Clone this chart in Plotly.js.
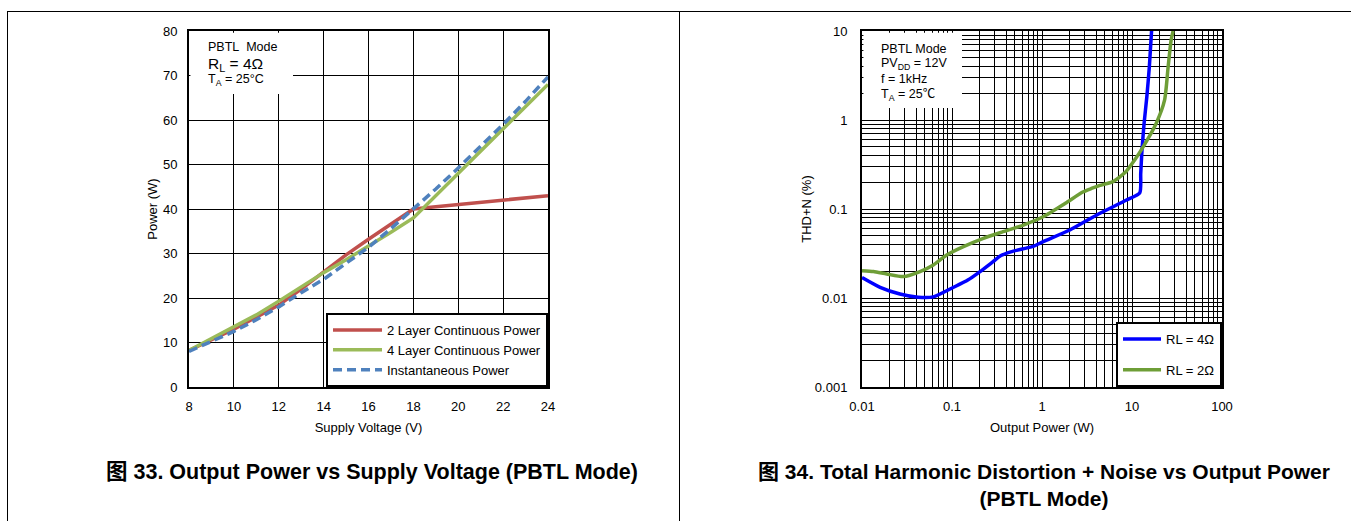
<!DOCTYPE html>
<html>
<head>
<meta charset="utf-8">
<script src="https://cdn.plot.ly/plotly-3.0.1.min.js"></script>
<style>
  html, body { margin:0; padding:0; background:#fff; width:1351px; height:521px; overflow:hidden; }
  #left { position:absolute; left:0; top:0; width:680px; height:521px; }
  #right { position:absolute; left:680px; top:0; width:671px; height:521px; }
  .ln { position:absolute; background:#000; z-index:10; }
</style>
</head>
<body>
<div id="left"></div>
<div id="right"></div>
<div class="ln" style="left:7px; top:11px; width:1344px; height:1px;"></div>
<div class="ln" style="left:7px; top:11px; width:1px; height:510px;"></div>
<div class="ln" style="left:679px; top:11px; width:1px; height:510px;"></div>
<script>
// ---------- Figure 33 data ----------
const supplyVoltage = [8, 9, 10, 11, 12, 13, 14, 15, 16, 17, 18, 19, 20, 21, 22, 23, 24];
const power2Layer   = [8.2, 10.5, 13.0, 15.7, 18.4, 22.0, 25.8, 29.7, 33.2, 36.6, 40.0, 40.5, 41.0, 41.5, 42.0, 42.5, 43.0];
const power4Layer   = [8.2, 10.8, 13.4, 16.2, 19.3, 22.6, 25.7, 28.6, 31.6, 34.8, 38.0, 43.0, 48.0, 53.0, 58.0, 63.0, 68.0];
const powerInstant  = [8.0, 10.2, 12.5, 15.1, 18.0, 21.2, 24.2, 27.8, 31.4, 35.6, 40.0, 44.5, 49.2, 54.0, 59.0, 64.2, 69.7];
const seriesNames33 = ['2 Layer Continuous Power', '4 Layer Continuous Power', 'Instantaneous Power'];

// ---------- Figure 34 data ----------
const outPower4 = [0.01, 0.0159, 0.0264, 0.042, 0.062, 0.104, 0.15, 0.205, 0.286, 0.35, 0.45, 0.6, 0.8, 1.03, 2.04, 4.06, 8.7, 12.2, 12.5, 12.9, 13.6, 14.6, 15.6, 16.5];
const thd4      = [0.017, 0.0132, 0.0111, 0.0102, 0.0103, 0.0132, 0.0159, 0.0198, 0.0256, 0.030, 0.033, 0.0355, 0.038, 0.043, 0.058, 0.0857, 0.126, 0.152, 0.25, 0.45, 0.9, 1.8, 4.0, 10];
const outPower2 = [0.01, 0.0134, 0.0188, 0.0288, 0.0441, 0.062, 0.0873, 0.134, 0.223, 0.37, 0.62, 1.03, 1.82, 2.84, 3.54, 4.4, 6.14, 8.55, 10.7, 13.3, 18.5, 23, 25.2, 27.2, 28.6];
const thd2      = [0.0203, 0.0198, 0.0186, 0.0174, 0.0198, 0.0235, 0.0304, 0.0377, 0.0468, 0.0556, 0.066, 0.0818, 0.116, 0.155, 0.17, 0.184, 0.203, 0.262, 0.355, 0.50, 0.91, 1.67, 3.95, 7.9, 10];
const seriesNames34 = ['RL = 4Ω', 'RL = 2Ω'];
const thdTickVals = [0.001, 0.01, 0.1, 1, 10];
const thdTickText = ['0.001', '0.01', '0.1', '1', '10'];
const powTickVals = [0.01, 0.1, 1, 10, 100];
const powTickText = ['0.01', '0.1', '1', '10', '100'];

const FONT = 'Liberation Sans, Arial, "Noto Sans CJK SC", sans-serif';
const cfg = {displayModeBar:false, staticPlot:true};

// ---------- Left chart ----------
const tracesL = [
  {x: supplyVoltage, y: power2Layer, name: seriesNames33[0], mode:'lines', line:{color:'#C0504D', width:3.5}},
  {x: supplyVoltage, y: power4Layer, name: seriesNames33[1], mode:'lines', line:{color:'#9BBB59', width:3.5}},
  {x: supplyVoltage, y: powerInstant, name: seriesNames33[2], mode:'lines', line:{color:'#4F81BD', width:3.5, dash:'9px,5px'}}
];
const axisCommon = {
  showgrid:true, gridcolor:'#000', gridwidth:1, showline:true, linecolor:'#000', linewidth:2,
  mirror:true, zeroline:false, ticks:'', fixedrange:true, automargin:false,
  tickfont:{size:13, color:'#000'}
};
const layoutL = {
  width:680, height:521, margin:{l:189, r:132, t:31, b:134},
  paper_bgcolor:'rgba(0,0,0,0)', plot_bgcolor:'#fff',
  font:{family:FONT, size:13, color:'#000'},
  title:{text:'<b>图 33. Output Power vs Supply Voltage (PBTL Mode)</b>', font:{size:21.5, family:FONT, color:'#000'},
         x:372/680, xanchor:'center', xref:'container', y:1-471/521, yanchor:'middle', yref:'container'},
  xaxis:Object.assign({}, axisCommon, {range:[8,24], tick0:8, dtick:2, ticklabelstandoff:6,
         title:{text:'Supply Voltage (V)', standoff:10, font:{size:13}}}),
  yaxis:Object.assign({}, axisCommon, {range:[0,80], tick0:0, dtick:10, ticklabelstandoff:7,
         title:{text:'Power (W)', standoff:2, font:{size:13}}}),
  showlegend:true,
  legend:{x:1, xanchor:'right', y:0, yanchor:'bottom', bgcolor:'#fff', bordercolor:'#000', borderwidth:2,
          font:{size:13, color:'#000'}, itemwidth:49},
  shapes:[{type:'rect', xref:'paper', yref:'paper', x0:0.004, x1:(293-189)/359, y0:1-(94-31)/356, y1:0.995,
           fillcolor:'#fff', line:{width:0}, layer:'above'}],
  annotations:[
    {xref:'paper', yref:'paper', x:(206-189)/359, y:1-(47-31)/356, xanchor:'left', yanchor:'middle', showarrow:false,
     text:'PBTL&nbsp;&nbsp;Mode', font:{size:12.5}},
    {xref:'paper', yref:'paper', x:(206-189)/359, y:1-(64-31)/356, xanchor:'left', yanchor:'middle', showarrow:false,
     text:'R<sub>L</sub> = 4Ω', font:{size:15.5}},
    {xref:'paper', yref:'paper', x:(206-189)/359, y:1-(80-31)/356, xanchor:'left', yanchor:'middle', showarrow:false,
     text:'T<sub>A</sub> = 25°C', font:{size:12.5}}
  ]
};
Plotly.newPlot('left', tracesL, layoutL, cfg);

// ---------- Right chart ----------
const tracesR = [
  {x: outPower4, y: thd4, name: seriesNames34[0], mode:'lines', legendgroup:'a',
   line:{color:'#0000FF', width:3.5, shape:'spline', smoothing:0.6}},
  {x: outPower2, y: thd2, name: seriesNames34[1], mode:'lines', legendgroup:'b',
   line:{color:'#6E9E37', width:3.5, shape:'spline', smoothing:0.6}}
];
const layoutR = {
  width:671, height:521, margin:{l:182, r:129, t:31, b:134},
  paper_bgcolor:'rgba(0,0,0,0)', plot_bgcolor:'#fff',
  font:{family:FONT, size:13, color:'#000'},
  title:{text:'<b>图 34. Total Harmonic Distortion + Noise vs Output Power<br>(PBTL Mode)</b>', font:{size:21, family:FONT, color:'#000'},
         x:(1044-680)/671, xanchor:'center', xref:'container', y:1-478.5/521, yanchor:'middle', yref:'container'},
  xaxis:Object.assign({}, axisCommon, {type:'log', range:[-2,2], tickmode:'array', tickvals:powTickVals, ticktext:powTickText,
         ticklabelstandoff:6, minor:{showgrid:true, gridcolor:'#000', gridwidth:1, dtick:'D1'},
         title:{text:'Output Power (W)', standoff:10, font:{size:13}}}),
  yaxis:Object.assign({}, axisCommon, {type:'log', range:[-3,1], tickmode:'array', tickvals:thdTickVals, ticktext:thdTickText,
         ticklabelstandoff:10, minor:{showgrid:true, gridcolor:'#000', gridwidth:1, dtick:'D1'},
         title:{text:'THD+N (%)', standoff:0, font:{size:13}}}),
  showlegend:true,
  legend:{x:1, xanchor:'right', y:0, yanchor:'bottom', bgcolor:'#fff', bordercolor:'#000', borderwidth:2,
          font:{size:13, color:'#000'}, itemwidth:38, tracegroupgap:11},
  shapes:[{type:'rect', xref:'paper', yref:'paper', x0:0.004, x1:(962-862)/360, y0:1-(108-31)/356, y1:0.995,
           fillcolor:'#fff', line:{width:0}, layer:'above'}],
  annotations:[
    {xref:'paper', yref:'paper', x:(879-862)/360, y:1-(49-31)/356, xanchor:'left', yanchor:'middle', showarrow:false,
     text:'PBTL Mode', font:{size:12.5}},
    {xref:'paper', yref:'paper', x:(879-862)/360, y:1-(64-31)/356, xanchor:'left', yanchor:'middle', showarrow:false,
     text:'PV<sub>DD</sub> = 12V', font:{size:12.5}},
    {xref:'paper', yref:'paper', x:(879-862)/360, y:1-(79-31)/356, xanchor:'left', yanchor:'middle', showarrow:false,
     text:'f = 1kHz', font:{size:12.5}},
    {xref:'paper', yref:'paper', x:(879-862)/360, y:1-(95-31)/356, xanchor:'left', yanchor:'middle', showarrow:false,
     text:'T<sub>A</sub> = 25℃', font:{size:12.5}}
  ]
};
Plotly.newPlot('right', tracesR, layoutR, cfg);
</script>
</body>
</html>
